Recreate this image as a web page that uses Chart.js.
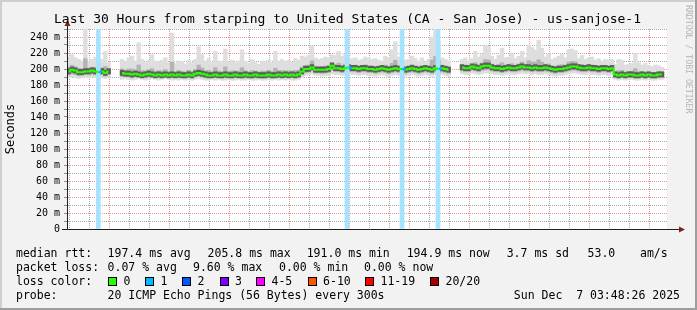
<!DOCTYPE html>
<html>
<head>
<meta charset="utf-8">
<script src="https://cdn.jsdelivr.net/npm/chart.js@4.4.0/dist/chart.umd.min.js"></script>
<style>
  html, body { margin: 0; padding: 0; background: #f2f2f2; }
  canvas { display: block; }
</style>
</head>
<body>
<canvas id="smoke" width="697" height="310"></canvas>
<script>
// x is minutes from Sat 00:00, y is rtt in ms (axis shows it as "m" seconds)
const startMin = -126;   // left edge of plot
const endMin = 1674;     // right edge of plot
const slotMin = 10;      // one reading per 10 minutes

// median rtt per slot (null = no data)
const medianMs = [
  197,199,198,196,196,197,197,198,197,196,
  197,195,197,null,null,null,195,194,194,193,
  194,193,192,193,194,193,192,193,192,193,
  192,193,192,193,192,192,193,192,194,195,
  194,193,192,192,193,192,192,193,192,192,
  193,192,192,193,192,192,193,192,192,192,
  193,192,192,193,192,193,192,193,192,193,
  197,200,200,202,199,199,199,199,200,204,
  201,201,200,201,202,201,201,200,201,201,
  200,200,199,200,201,200,199,200,201,200,
  200,199,200,201,200,199,200,201,200,199,
  201,200,201,200,199,null,null,null,202,201,
  201,203,202,201,203,204,204,202,201,201,
  200,201,202,201,201,202,203,202,202,201,
  202,201,201,202,201,200,199,200,200,201,
  202,203,203,202,201,201,202,201,201,200,
  201,201,200,201,193,192,193,192,193,193,
  192,192,193,192,193,192,192,193,193,null
];

// highest ping per slot
const highMs = [
  215,218,214,212,210,250,210,212,215,213,
  212,222,208,null,null,null,212,209,214,216,
  210,233,212,208,211,218,210,209,211,214,
  208,245,207,210,209,206,211,208,212,228,
  218,209,213,208,222,210,208,225,209,211,
  208,210,224,209,207,212,208,206,210,209,
  211,208,222,210,212,209,211,208,213,211,
  216,215,217,229,214,212,213,215,214,218,
  217,222,216,218,212,213,214,211,212,215,
  213,212,213,211,210,216,214,224,234,215,
  212,211,212,216,213,210,214,209,212,240,
  250,235,214,212,210,null,null,null,212,214,
  210,213,222,215,218,230,228,216,212,217,
  226,214,215,220,213,216,222,214,230,227,
  224,236,226,215,219,212,214,216,218,214,
  224,225,223,213,217,212,214,215,211,213,
  210,212,211,212,206,212,211,205,206,207,
  220,208,205,207,204,203,205,204,202,null
];

// lowest ping per slot
const lowMs = [
  189,190,189,188,189,190,189,190,189,188,
  190,188,190,null,null,null,187,188,187,186,
  187,188,187,186,187,188,187,186,187,188,
  187,186,187,186,187,186,187,186,187,188,
  187,186,186,187,186,187,186,186,187,186,
  186,187,186,186,187,186,186,187,186,186,
  187,186,187,186,187,186,187,186,186,187,
  189,192,193,194,192,192,191,192,192,194,
  193,193,192,193,194,193,193,192,193,193,
  192,192,191,192,193,192,190,192,193,192,
  192,191,192,193,192,191,192,193,192,191,
  193,192,193,192,191,null,null,null,194,193,
  193,195,194,193,194,195,195,194,193,193,
  192,193,194,193,193,194,195,194,194,193,
  194,193,193,194,193,192,191,192,192,193,
  194,195,195,194,193,193,194,193,193,192,
  193,193,192,193,187,186,187,186,187,187,
  186,186,187,186,187,186,186,187,187,null
];

// samples with 1 of 20 pings lost
const lossTimes = [-32, 714, 879, 987];

const xTickTimes = [0, 360, 720, 1080, 1440];
const xTickLabels = ['Sat 00:00', 'Sat 06:00', 'Sat 12:00', 'Sat 18:00', 'Sun 00:00'];

const lossLabels = ['0', '1', '2', '3', '4-5', '6-10', '11-19', '20/20'];
const lossColors = ['#26ff00', '#00b8ff', '#0059ff', '#7e00ff', '#ff00ff', '#ff5500', '#ff0000', '#a10000'];

const rttStats = ['197.4 ms avg', '205.8 ms max', '191.0 ms min', '194.9 ms now', '3.7 ms sd', '53.0', 'am/s'];
const lossStats = ['0.07 % avg', '9.60 % max', '0.00 % min', '0.00 % now'];
const probeText = '20 ICMP Echo Pings (56 Bytes) every 300s';
const stampText = 'Sun Dec  7 03:48:26 2025';
const titleText = 'Last 30 Hours from starping to United States (CA - San Jose) - us-sanjose-1';

const MONO = '"DejaVu Sans Mono", monospace';
const minorGrid = 'rgba(143,143,143,0.75)';
const majorGrid = 'rgba(222,79,79,0.6)';

const slotX = i => startMin + slotMin * i + slotMin / 2;
const lossSlots = lossTimes.map(t => Math.floor((t - startMin) / slotMin));

function band(fn) {
    const out = [];
    medianMs.forEach((m, i) => {
        if (m !== null) out.push({ x: slotX(i), y: fn(m, i) });
    });
    return out;
}

const smokeBar = {
    type: 'bar', grouped: false, barThickness: 3.7, borderWidth: 0, borderSkipped: false
};

function dotted(ctx, x1, y1, x2, y2, color) {
    ctx.strokeStyle = color;
    ctx.beginPath();
    ctx.moveTo(x1, y1);
    ctx.lineTo(x2, y2);
    ctx.stroke();
}

// background, frame, dotted grid and all the rrdtool text
const framePlugin = {
    id: 'frame',
    beforeDraw(chart) {
        const { ctx, width, height, chartArea: a } = chart;
        ctx.save();
        ctx.fillStyle = '#f2f2f2';
        ctx.fillRect(0, 0, width, height);
        ctx.fillStyle = '#cfcfcf';
        ctx.fillRect(0, 0, width, 2);
        ctx.fillRect(0, 0, 2, height);
        ctx.fillStyle = '#9e9e9e';
        ctx.fillRect(0, height - 2, width, 2);
        ctx.fillRect(width - 2, 0, 2, height);
        ctx.fillStyle = '#ffffff';
        ctx.fillRect(a.left, a.top, a.right - a.left, a.bottom - a.top);
        ctx.restore();
    },
    beforeDatasetsDraw(chart) {
        const { ctx, chartArea: a, scales } = chart;
        ctx.save();
        ctx.lineWidth = 1;
        ctx.setLineDash([1, 1]);
        for (let v = 10; v <= 250; v += 10) {
            const y = Math.round(scales.y.getPixelForValue(v)) + 0.5;
            dotted(ctx, a.left + 1, y, a.right, y, v % 20 === 0 ? majorGrid : minorGrid);
        }
        for (let t = -120; t <= endMin; t += 60) {
            const x = Math.round(scales.x.getPixelForValue(t)) + 0.5;
            if (x >= a.right) break;
            dotted(ctx, x, a.top, x, a.bottom, t % 180 === 0 ? majorGrid : minorGrid);
        }
        ctx.restore();
    },
    afterDraw(chart) {
        const { ctx, chartArea: a } = chart;
        ctx.save();

        // axes with arrows
        ctx.strokeStyle = '#1f1f1f';
        ctx.lineWidth = 1;
        ctx.beginPath();
        ctx.moveTo(a.left + 0.5, a.bottom);
        ctx.lineTo(a.left + 0.5, 25);
        ctx.moveTo(a.left - 5, a.bottom + 0.5);
        ctx.lineTo(679, a.bottom + 0.5);
        ctx.stroke();
        ctx.fillStyle = '#801f1f';
        ctx.beginPath();
        ctx.moveTo(a.left + 0.5, 20);
        ctx.lineTo(a.left - 2.5, 26);
        ctx.lineTo(a.left + 3.5, 26);
        ctx.closePath();
        ctx.fill();
        ctx.beginPath();
        ctx.moveTo(685, a.bottom + 0.5);
        ctx.lineTo(679, a.bottom - 2.5);
        ctx.lineTo(679, a.bottom + 3.5);
        ctx.closePath();
        ctx.fill();

        // title
        ctx.fillStyle = '#000';
        ctx.font = '13px ' + MONO;
        ctx.textAlign = 'center';
        ctx.textBaseline = 'alphabetic';
        ctx.fillText(titleText, 347.5, 23);

        // axis title
        ctx.save();
        ctx.translate(11, (a.top + a.bottom) / 2);
        ctx.rotate(-Math.PI / 2);
        ctx.font = '12px ' + MONO;
        ctx.textBaseline = 'middle';
        ctx.fillText('Seconds', 0, 0);
        ctx.restore();

        // watermark
        ctx.save();
        ctx.translate(688, 5);
        ctx.rotate(Math.PI / 2);
        ctx.font = '8.2px ' + MONO;
        ctx.fillStyle = '#b4b4b4';
        ctx.textAlign = 'left';
        ctx.textBaseline = 'middle';
        ctx.fillText('RRDTOOL / TOBI OETIKER', 0, 0);
        ctx.restore();

        // legend
        ctx.font = '11.5px ' + MONO;
        ctx.textAlign = 'left';
        ctx.textBaseline = 'middle';
        ctx.fillStyle = '#000';
        ctx.fillText('median rtt:', 16, 254);
        const rttX = [107.6, 207.6, 306.7, 406.7, 506.7, 587.6, 640];
        rttStats.forEach((s, i) => ctx.fillText(s, rttX[i], 254));

        ctx.fillText('packet loss:', 16, 268);
        const lossX = [107.6, 193, 279, 364];
        lossStats.forEach((s, i) => ctx.fillText(s, lossX[i], 268));

        ctx.fillText('loss color:', 16, 282);
        const boxX = [108, 145, 182, 219.6, 256, 307.6, 365, 430];
        lossLabels.forEach((s, i) => {
            const bx = Math.round(boxX[i]) + 0.5;
            ctx.fillStyle = lossColors[i];
            ctx.fillRect(bx, 277.5, 8, 8);
            ctx.strokeStyle = '#000';
            ctx.strokeRect(bx, 277.5, 8, 8);
            ctx.fillStyle = '#000';
            ctx.fillText(s, boxX[i] + 15.5, 282);
        });

        ctx.fillText('probe:', 16, 296);
        ctx.fillText(probeText, 107.6, 296);
        ctx.textAlign = 'right';
        ctx.fillText(stampText, 680, 296);

        ctx.restore();
    }
};

Chart.defaults.font.family = MONO;

new Chart(document.getElementById('smoke').getContext('2d'), {
    type: 'bar',
    data: {
        datasets: [
            {
                // median line, coloured by loss
                type: 'line',
                data: medianMs.map((m, i) => ({ x: slotX(i), y: m })),
                borderColor: lossColors[0],
                borderWidth: 2,
                pointRadius: 0,
                stepped: 'middle',
                spanGaps: false,
                segment: {
                    borderColor: c => lossSlots.includes(c.p0DataIndex) ? lossColors[1] : lossColors[0]
                },
                order: 0
            },
            {
                // loss bars
                type: 'bar',
                data: lossTimes.map(t => ({ x: t, y: [0, 250] })),
                backgroundColor: '#a6e3ff',
                grouped: false,
                barThickness: 4,
                borderWidth: 0,
                borderSkipped: false,
                order: 1
            },
            Object.assign({}, smokeBar, {
                data: band(m => [m - 3, m + 3.5]),
                backgroundColor: '#5c5c5c',
                order: 2
            }),
            Object.assign({}, smokeBar, {
                data: band((m, i) => [(lowMs[i] + m) / 2 - 0.5, m + (highMs[i] - m) * 0.3]),
                backgroundColor: '#b3b3b3',
                order: 3
            }),
            Object.assign({}, smokeBar, {
                data: band((m, i) => [lowMs[i], highMs[i]]),
                backgroundColor: '#dedede',
                order: 4
            })
        ]
    },
    options: {
        responsive: false,
        devicePixelRatio: 1,
        animation: false,
        layout: { padding: { left: 0, right: 30, top: 29, bottom: 0 } },
        plugins: { legend: { display: false }, tooltip: { enabled: false } },
        scales: {
            x: {
                type: 'linear',
                min: startMin,
                max: endMin,
                offset: false,
                afterFit: s => { s.height = 81; },
                ticks: {
                    stepSize: 60,
                    autoSkip: false,
                    maxRotation: 0,
                    minRotation: 0,
                    padding: 0,
                    color: '#000',
                    font: { family: MONO, size: 10 },
                    callback: v => {
                        const k = xTickTimes.indexOf(v);
                        return k < 0 ? '' : xTickLabels[k];
                    }
                },
                grid: {
                    offset: false,
                    drawOnChartArea: false,
                    tickLength: 2,
                    tickColor: c => c.tick.value % 60 !== 0 ? 'rgba(0,0,0,0)' : '#8f8f8f'
                },
                border: { display: false }
            },
            y: {
                min: 0,
                max: 250,
                afterFit: s => { s.width = 67; },
                ticks: {
                    stepSize: 10,
                    autoSkip: false,
                    padding: 4,
                    color: '#000',
                    font: { family: MONO, size: 10 },
                    callback: v => (v % 20 === 0 && v <= 240) ? (v === 0 ? '0' : v + ' m') : ''
                },
                grid: {
                    drawOnChartArea: false,
                    tickLength: 3,
                    tickColor: '#8f8f8f'
                },
                border: { display: false }
            }
        }
    },
    plugins: [framePlugin]
});
</script>
</body>
</html>
